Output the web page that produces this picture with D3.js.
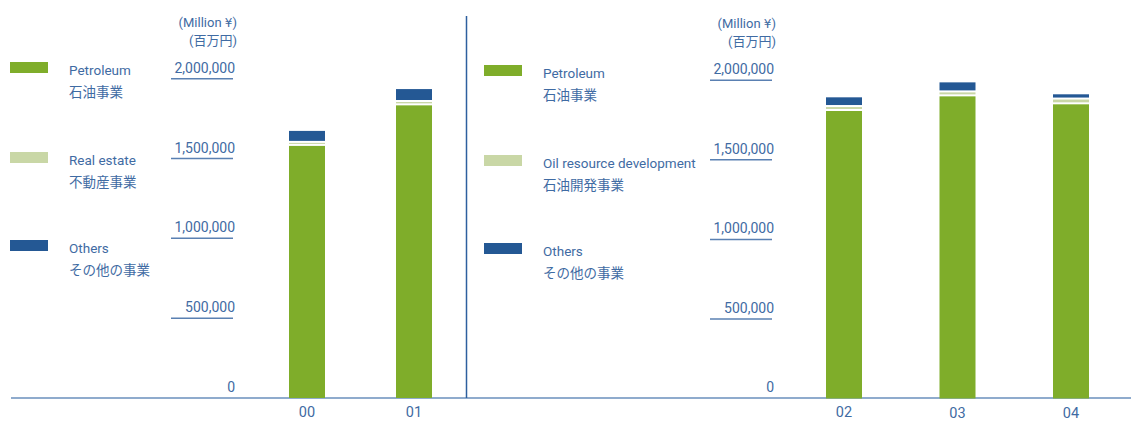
<!DOCTYPE html>
<html>
<head>
<meta charset="utf-8">
<script src="https://cdn.jsdelivr.net/npm/d3@7"></script>
<style>
  body { margin: 0; background: #fff; }
  text { font-family: Roboto, "Noto Sans CJK JP", sans-serif; fill: #3f6ba3; }
</style>
</head>
<body>
<svg id="chart" width="1131" height="421"></svg>
<script>
// left panel data (FY00-01)
const years1 = ["00", "01"];
const petroleum1 = [1579000, 1833000];
const realEstate1 = [19000, 21000];
const others1 = [75000, 81000];

// right panel data (FY02-04)
const years2 = ["02", "03", "04"];
const petroleum2 = [1807000, 1899000, 1849000];
const oilDev2 = [25000, 25000, 30000];
const others2 = [61000, 63000, 33000];

const tickValues = [0, 500000, 1000000, 1500000, 2000000];

const colors = ["#7fad2a", "#c9d7a6", "#245894"];
const axisColor = "#6a8fbd";
const svg = d3.select("#chart");

// baseline + divider
svg.append("line").attr("x1", 11).attr("x2", 1131).attr("y1", 398).attr("y2", 398)
  .attr("stroke", axisColor).attr("stroke-width", 1.5);
svg.append("line").attr("x1", 466.5).attr("x2", 466.5).attr("y1", 16).attr("y2", 398)
  .attr("stroke", "#2d5f9e").attr("stroke-width", 1.5);

function panel(opt) {
  const y = d3.scaleLinear().domain([0, 2000000]).range(opt.yRange);
  const x = d3.scalePoint().domain(opt.years).range(opt.xRange);
  const g = svg.append("g");

  // units (Yen sign kept in its own tspan)
  const u = g.append("text").attr("x", opt.axisX + 2).attr("y", opt.unitY).attr("text-anchor", "end")
    .style("font-size", "13px");
  u.append("tspan").text("(Million ");
  u.append("tspan").style("font-family", "'DejaVu Sans', sans-serif").style("font-size", "12px").text("\u00A5");
  u.append("tspan").text(")");
  g.append("text").attr("x", opt.axisX + 2).attr("y", opt.unitY + 18).attr("text-anchor", "end")
    .style("font-size", "13px").text("(百万円)");

  // y ticks: label above a short rule
  const t = g.selectAll(".tick").data(tickValues).enter().append("g");
  t.filter(d => d > 0).append("line")
    .attr("x1", opt.axisX - 64).attr("x2", opt.axisX - 2)
    .attr("y1", d => y(d)).attr("y2", d => y(d))
    .attr("stroke", "#5a80b2").attr("stroke-width", 1.5);
  t.append("text").attr("x", opt.axisX).attr("y", d => d === 0 ? y(d) - 6.5 : y(d) - 6)
    .attr("text-anchor", "end").style("font-size", "14px")
    .text(d => d3.format(",")(d));

  // stacked bars, each upper segment leaves a thin white gap
  const series = opt.series;
  opt.years.forEach((yr, i) => {
    let cum = 0;
    series.forEach((s, k) => {
      const v = s.values[i];
      const y0 = y(cum), y1 = y(cum + v);
      const gap = k === 0 ? 0 : 2;
      g.append("rect")
        .attr("x", x(yr) - 18).attr("width", 36)
        .attr("y", y1).attr("height", Math.max(0.8, y0 - y1 - gap))
        .attr("fill", colors[k]);
      cum += v;
    });
    g.append("text").attr("x", x(yr)).attr("y", opt.labelY[i]).attr("text-anchor", "middle")
      .style("font-size", "14.5px").text(yr);
  });

  // legend
  series.forEach((s, k) => {
    g.append("rect").attr("x", opt.legendX).attr("y", opt.legendY[k]).attr("width", 38).attr("height", 11)
      .attr("fill", colors[k]);
    g.append("text").attr("x", opt.legendX + 59).attr("y", opt.legendY[k] + 13)
      .style("font-size", "13.5px").text(s.en);
    g.append("text").attr("x", opt.legendX + 59).attr("y", opt.legendY[k] + 34.5)
      .style("font-size", "13.5px").text(s.ja);
  });
}

panel({
  years: years1, xRange: [307, 414], yRange: [398, 78.7], axisX: 235, unitY: 26.5,
  labelY: [417, 417], legendX: 10, legendY: [62, 152, 240],
  series: [
    { en: "Petroleum", ja: "石油事業", values: petroleum1 },
    { en: "Real estate", ja: "不動産事業", values: realEstate1 },
    { en: "Others", ja: "その他の事業", values: others1 }
  ]
});

panel({
  years: years2, xRange: [844, 1071], yRange: [398.5, 80.3], axisX: 774, unitY: 28,
  labelY: [417, 418, 418], legendX: 484, legendY: [65, 155, 243],
  series: [
    { en: "Petroleum", ja: "石油事業", values: petroleum2 },
    { en: "Oil resource development", ja: "石油開発事業", values: oilDev2 },
    { en: "Others", ja: "その他の事業", values: others2 }
  ]
});
</script>
</body>
</html>
